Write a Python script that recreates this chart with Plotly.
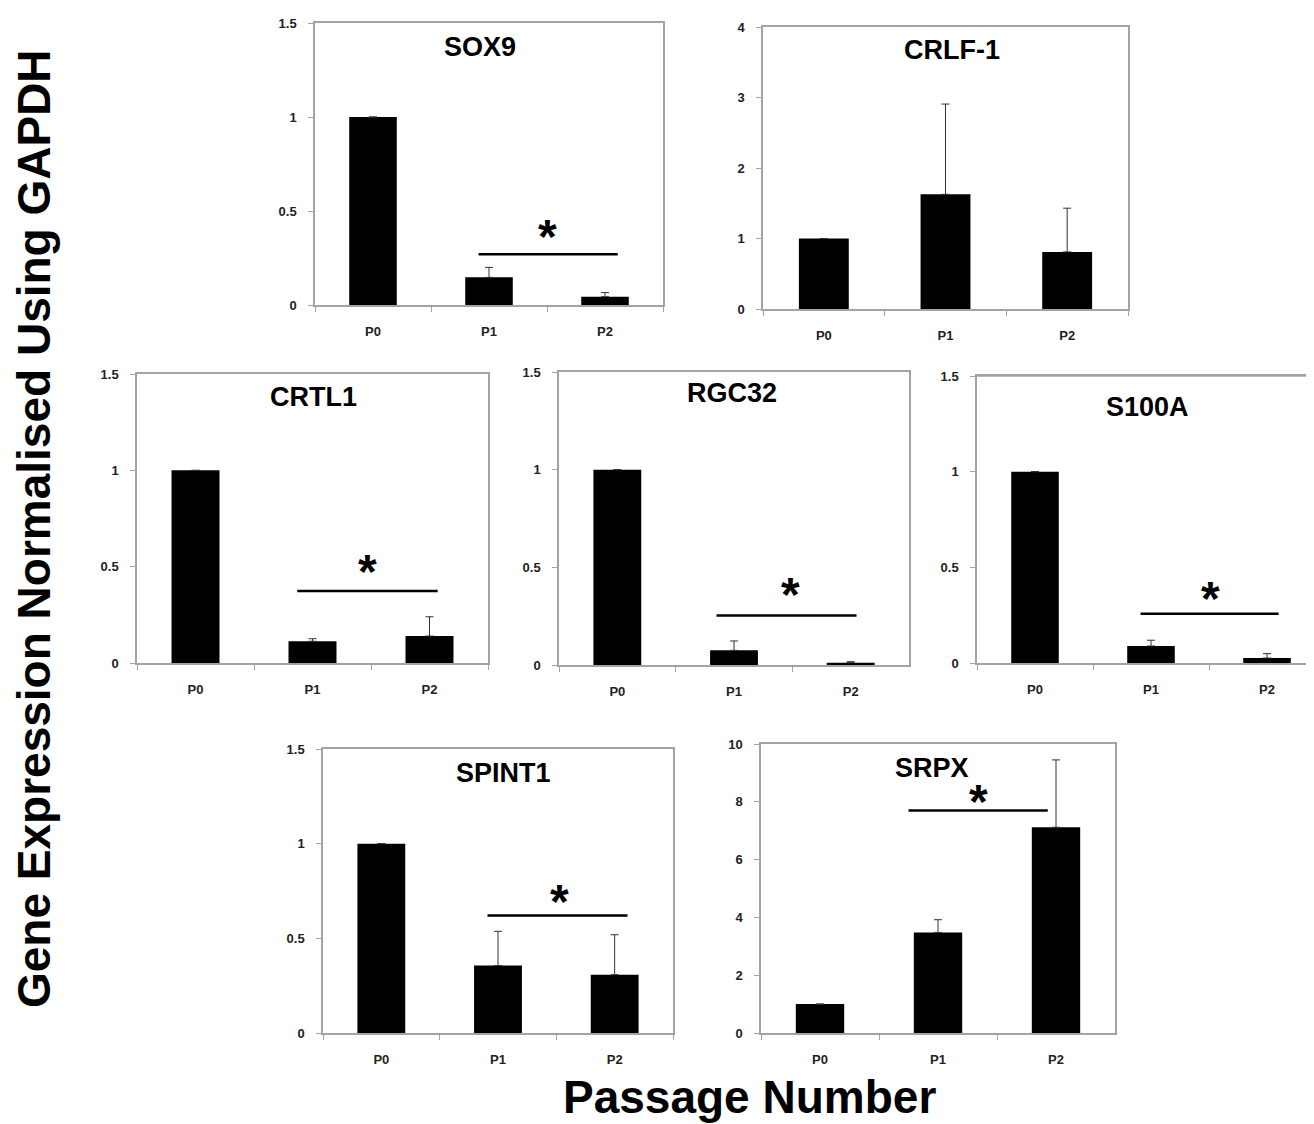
import plotly.graph_objects as go

# ---------------- data ----------------
categories = ["P0", "P1", "P2"]

sox9_mean = [1.0, 0.147, 0.044]
sox9_err = [0.0, 0.053, 0.022]

crlf1_mean = [1.0, 1.627, 0.81]
crlf1_err = [0.0, 1.28, 0.62]

crtl1_mean = [1.0, 0.113, 0.14]
crtl1_err = [0.0, 0.013, 0.10]

rgc32_mean = [1.0, 0.075, 0.012]
rgc32_err = [0.0, 0.048, 0.005]

s100a_mean = [1.0, 0.089, 0.026]
s100a_err = [0.0, 0.030, 0.023]

spint1_mean = [1.0, 0.356, 0.308]
spint1_err = [0.0, 0.181, 0.211]

srpx_mean = [1.0, 3.48, 7.12]
srpx_err = [0.0, 0.44, 2.33]

# significance bracket level (data units) and star level
sox9_sig = [0.27, 0.42]
crtl1_sig = [0.374, 0.525]
rgc32_sig = [0.254, 0.41]
s100a_sig = [0.258, 0.39]
spint1_sig = [0.62, 0.745]
srpx_sig = [7.7, 8.35]

y_title = "Gene Expression Normalised Using GAPDH"
x_title = "Passage Number"

# ---------------- layout ----------------
# page body has an 8px default margin; the figure is sized to fill the rest
OFF = 8
W, H = 1314 - OFF, 1124 - OFF
FONT = "Liberation Sans, Arial, sans-serif"
GRAY = "#a3a3a3"


def px(x):
    return (x - OFF) / W


def py(y):
    return 1 - (y - OFF) / H


panels = [
    dict(name="SOX9", mean=sox9_mean, err=sox9_err, ymax=1.5, dtick=0.5,
         box=(315, 663, 23, 305), sig=sox9_sig, sx=(0.91, 2.11, 1.5), tpos=(480, 47), xmax=2.5),
    dict(name="CRLF-1", mean=crlf1_mean, err=crlf1_err, ymax=4, dtick=1,
         box=(763, 1128, 27, 309), sig=None, sx=None, tpos=(952, 50), xmax=2.5),
    dict(name="CRTL1", mean=crtl1_mean, err=crtl1_err, ymax=1.5, dtick=0.5,
         box=(137, 488, 374, 663), sig=crtl1_sig, sx=(0.87, 2.07, 1.47), tpos=(313, 397), xmax=2.5),
    dict(name="RGC32", mean=rgc32_mean, err=rgc32_err, ymax=1.5, dtick=0.5,
         box=(559, 909, 372, 665), sig=rgc32_sig, sx=(0.85, 2.05, 1.48), tpos=(732, 393), xmax=2.5),
    dict(name="S100A", mean=s100a_mean, err=s100a_err, ymax=1.5, dtick=0.5,
         box=(977, 1314, 376, 663), sig=s100a_sig, sx=(0.91, 2.10, 1.51), tpos=(1147, 407), xmax=2.405),
    dict(name="SPINT1", mean=spint1_mean, err=spint1_err, ymax=1.5, dtick=0.5,
         box=(323, 673, 749, 1033), sig=spint1_sig, sx=(0.91, 2.11, 1.53), tpos=(503, 773), xmax=2.5),
    dict(name="SRPX", mean=srpx_mean, err=srpx_err, ymax=10, dtick=2,
         box=(761, 1115, 744, 1033), sig=srpx_sig, sx=(0.75, 1.93, 1.34), tpos=(932, 768), xmax=2.5),
]

fig = go.Figure()
shapes = []
annotations = []
layout_axes = {}

for i, p in enumerate(panels):
    n = i + 1
    xa = "x" if n == 1 else f"x{n}"
    ya = "y" if n == 1 else f"y{n}"
    l, r, t, b = p["box"]
    fig.add_trace(go.Bar(
        x=categories, y=p["mean"],
        error_y=dict(type="data", array=p["err"], arrayminus=[0, 0, 0], symmetric=False,
                     color="#333333", thickness=1, width=4),
        marker=dict(color="black", line=dict(width=0)),
        xaxis=xa, yaxis=ya, showlegend=False, hoverinfo="skip",
    ))
    layout_axes[f"xaxis{'' if n == 1 else n}"] = dict(
        domain=[px(l), min(px(r), 1.0)], anchor=ya, type="category",
        range=[-0.5, p["xmax"]], showline=True, mirror=True, linecolor=GRAY, linewidth=1.5,
        ticks="outside", tickson="boundaries", ticklen=5, tickcolor=GRAY, tickwidth=1,
        tickfont=dict(size=13, family=FONT, color="#222222", weight="bold"),
        ticklabelstandoff=14, showgrid=False, zeroline=False, fixedrange=True, automargin=False,
    )
    layout_axes[f"yaxis{'' if n == 1 else n}"] = dict(
        domain=[py(b), py(t)], anchor=xa, range=[0, p["ymax"]], dtick=p["dtick"],
        tick0=0, showline=True, mirror=(p["name"] != "S100A"), linecolor=GRAY, linewidth=1.5,
        ticks="outside", ticklen=5, tickcolor=GRAY, tickwidth=1,
        tickfont=dict(size=13, family=FONT, color="#222222", weight="bold"),
        ticklabelstandoff=9, showgrid=False, zeroline=False, fixedrange=True, automargin=False,
    )
    if p["name"] == "S100A":
        shapes.append(dict(type="line", xref="paper", yref="paper",
                           x0=px(l), x1=1.0, y0=py(t), y1=py(t),
                           line=dict(color=GRAY, width=1.5)))
    # title
    tx, ty = p["tpos"]
    annotations.append(dict(xref="paper", yref="paper", x=px(tx), y=py(ty),
                            text=f"<b>{p['name']}</b>", showarrow=False,
                            xanchor="center", yanchor="middle",
                            font=dict(size=27, family=FONT, color="black")))
    if p["sig"] is not None:
        x0, x1, sxs = p["sx"]
        ly, sy = p["sig"]
        shapes.append(dict(type="line", xref=xa, yref=ya, x0=x0, x1=x1, y0=ly, y1=ly,
                           line=dict(color="black", width=2.5)))
        annotations.append(dict(xref=xa, yref=ya, x=sxs, y=sy, text="<b>*</b>",
                                showarrow=False, xanchor="center", yanchor="middle", yshift=-10,
                                font=dict(size=48, family=FONT, color="black")))

annotations.append(dict(xref="paper", yref="paper", x=px(34), y=py(529),
                        text=f"<b>{y_title}</b>", textangle=-90, showarrow=False,
                        xanchor="center", yanchor="middle",
                        font=dict(size=46, family=FONT, color="black")))
annotations.append(dict(xref="paper", yref="paper", x=px(750), y=py(1097),
                        text=f"<b>{x_title}</b>", showarrow=False,
                        xanchor="center", yanchor="middle",
                        font=dict(size=46, family=FONT, color="black")))

fig.update_layout(
    width=W, height=H, margin=dict(l=0, r=0, t=0, b=0, autoexpand=False),
    paper_bgcolor="white", plot_bgcolor="white",
    bargap=0.59, showlegend=False,
    shapes=shapes, annotations=annotations,
    **layout_axes,
)

fig.write_html("out.html", config={"displayModeBar": False})
